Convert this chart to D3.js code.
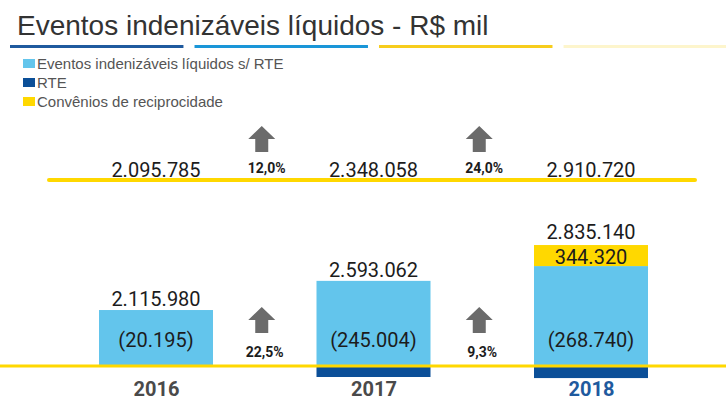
<!DOCTYPE html>
<html>
<head>
<meta charset="utf-8">
<script src="https://cdn.jsdelivr.net/npm/d3@7"></script>
<style>
  body { margin: 0; background: #fff; }
  svg { display: block; }
</style>
</head>
<body>
<svg id="chart" width="726" height="401"></svg>
<script>
const years = ["2016", "2017", "2018"];
const totals = [2115980, 2593062, 2835140];     // eventos indenizáveis (barra azul clara)
const rte = [20195, 245004, 268740];            // RTE (abaixo da linha)
const convenios = [0, 0, 344320];               // convênios de reciprocidade
const netTotals = [2095785, 2348058, 2910720];  // líquidos s/ RTE (linha superior)
const growthTop = ["12,0%", "24,0%"];
const growthBottom = ["22,5%", "9,3%"];
const legendItems = ["Eventos indenizáveis líquidos s/ RTE", "RTE", "Convênios de reciprocidade"];

const C = { light: "#63c5ec", dark: "#0b4f98", yellow: "#ffd800", arrow: "#6b6b6b", text: "#1c1c1c" };

const svg = d3.select("#chart");
const fmt = d3.formatLocale({ decimal: ",", thousands: ".", grouping: [3], currency: ["R$", ""] }).format(",d");

// title + underline
svg.append("text")
  .attr("x", 17).attr("y", 35)
  .style("font-family", "Liberation Sans, Arial, sans-serif")
  .style("font-size", "28px")
  .style("fill", "#333")
  .text("Eventos indenizáveis líquidos - R$ mil");

const ulColors = ["#1f5a9e", "#1a96d8", "#f7cd1c", "#fdf5cc"];
const ul = d3.scaleBand().domain(d3.range(4)).range([10, 737]).paddingInner(0.06);
svg.selectAll("rect.ul").data(ulColors).join("rect")
  .attr("x", (d, i) => ul(i)).attr("y", 45)
  .attr("width", ul.bandwidth()).attr("height", 3)
  .attr("fill", d => d);

// legend
const lg = svg.append("g").attr("transform", "translate(23,59)");
const legendColors = [C.light, C.dark, C.yellow];
legendItems.forEach((t, i) => {
  const g = lg.append("g").attr("transform", `translate(0,${i * 19})`);
  g.append("rect").attr("width", 12).attr("height", 9).attr("fill", legendColors[i]);
  g.append("text").attr("x", 14).attr("y", 9.5)
    .style("font-family", "Liberation Sans, Arial, sans-serif")
    .style("font-size", "15px").style("fill", "#555")
    .text(t);
});

// scales
const x = d3.scaleLinear().domain([0, 2]).range([156, 591]);
const y = d3.scaleLinear().domain([1200000, 3000000]).range([366, 256]);
const yRte = d3.scaleLinear().domain([0, 245004]).range([0, 11]);
const barW = 114;
const baseY = 366;
const topLineY = 180;

function arrow(g, cx, top) {
  const p = d3.path();
  p.moveTo(cx, top);
  p.lineTo(cx + 13.5, top + 13);
  p.lineTo(cx + 6.5, top + 13);
  p.lineTo(cx + 6.5, top + 26);
  p.lineTo(cx - 6.5, top + 26);
  p.lineTo(cx - 6.5, top + 13);
  p.lineTo(cx - 13.5, top + 13);
  p.closePath();
  g.append("path").attr("d", p.toString()).attr("fill", C.arrow);
}

const numFont = "Roboto, 'Liberation Sans', sans-serif";

// top row: net totals
svg.append("line").attr("x1", 49).attr("x2", 695).attr("y1", topLineY).attr("y2", topLineY)
  .attr("stroke", C.yellow).attr("stroke-width", 4).attr("stroke-linecap", "round");

svg.selectAll("text.net").data(netTotals).join("text")
  .attr("x", (d, i) => x(i)).attr("y", topLineY - 3)
  .attr("text-anchor", "middle")
  .style("font-family", numFont).style("font-size", "20px").style("fill", C.text)
  .text(d => fmt(d));

growthTop.forEach((t, i) => {
  const cx = x(i + 0.5) - 3;
  arrow(svg, cx, 126);
  svg.append("text").attr("x", cx + 5).attr("y", 173).attr("text-anchor", "middle")
    .style("font-family", numFont).style("font-size", "14px").style("font-weight", "bold").style("fill", C.text)
    .text(t);
});

// bars
const bars = svg.append("g");
bars.selectAll("rect.rte").data(rte).join("rect")
  .attr("x", (d, i) => x(i) - barW / 2).attr("y", baseY)
  .attr("width", barW).attr("height", d => yRte(d))
  .attr("fill", C.dark);

bars.selectAll("rect.tot").data(totals).join("rect")
  .attr("x", (d, i) => x(i) - barW / 2).attr("y", d => y(d))
  .attr("width", barW).attr("height", d => baseY - y(d))
  .attr("fill", C.light);

const convH = d => y(1200000) - y(1200000 + d);
bars.selectAll("rect.conv").data(convenios).join("rect")
  .attr("x", (d, i) => x(i) - barW / 2).attr("y", (d, i) => y(totals[i]) - convH(d))
  .attr("width", barW).attr("height", d => convH(d))
  .attr("fill", C.yellow);

// baseline
svg.append("line").attr("x1", 0).attr("x2", 726).attr("y1", baseY).attr("y2", baseY)
  .attr("stroke", C.yellow).attr("stroke-width", 3);

// labels on bars
svg.selectAll("text.tot").data(totals).join("text")
  .attr("x", (d, i) => x(i)).attr("y", (d, i) => y(d) - convH(convenios[i]) - (convenios[i] ? 6 : 4))
  .attr("text-anchor", "middle")
  .style("font-family", numFont).style("font-size", "20px").style("fill", C.text)
  .text(d => fmt(d));

svg.selectAll("text.rte").data(rte).join("text")
  .attr("x", (d, i) => x(i)).attr("y", baseY - 19)
  .attr("text-anchor", "middle")
  .style("font-family", numFont).style("font-size", "20px").style("fill", C.text)
  .text(d => `(${fmt(d)})`);

convenios.forEach((d, i) => {
  if (!d) return;
  svg.append("text").attr("x", x(i)).attr("y", y(totals[i]) - 2)
    .attr("text-anchor", "middle")
    .style("font-family", numFont).style("font-size", "20px").style("fill", C.text)
    .text(fmt(d));
});

growthBottom.forEach((t, i) => {
  const cx = x(i + 0.5) - 3;
  arrow(svg, cx, 307);
  svg.append("text").attr("x", cx + 3).attr("y", 357).attr("text-anchor", "middle")
    .style("font-family", numFont).style("font-size", "14px").style("font-weight", "bold").style("fill", C.text)
    .text(t);
});

// x axis labels
const xa = svg.append("g").attr("transform", "translate(0,396)")
  .call(d3.axisBottom(x).tickValues([0, 1, 2]).tickFormat(i => years[i]).tickSize(0).tickPadding(0));
xa.select(".domain").remove();
xa.selectAll("text")
  .attr("dy", 0).attr("y", 0)
  .style("font-family", numFont).style("font-size", "20px").style("font-weight", "bold")
  .style("fill", (d, i) => i === 2 ? "#1f5a9e" : "#4a4a4a");
</script>
</body>
</html>
